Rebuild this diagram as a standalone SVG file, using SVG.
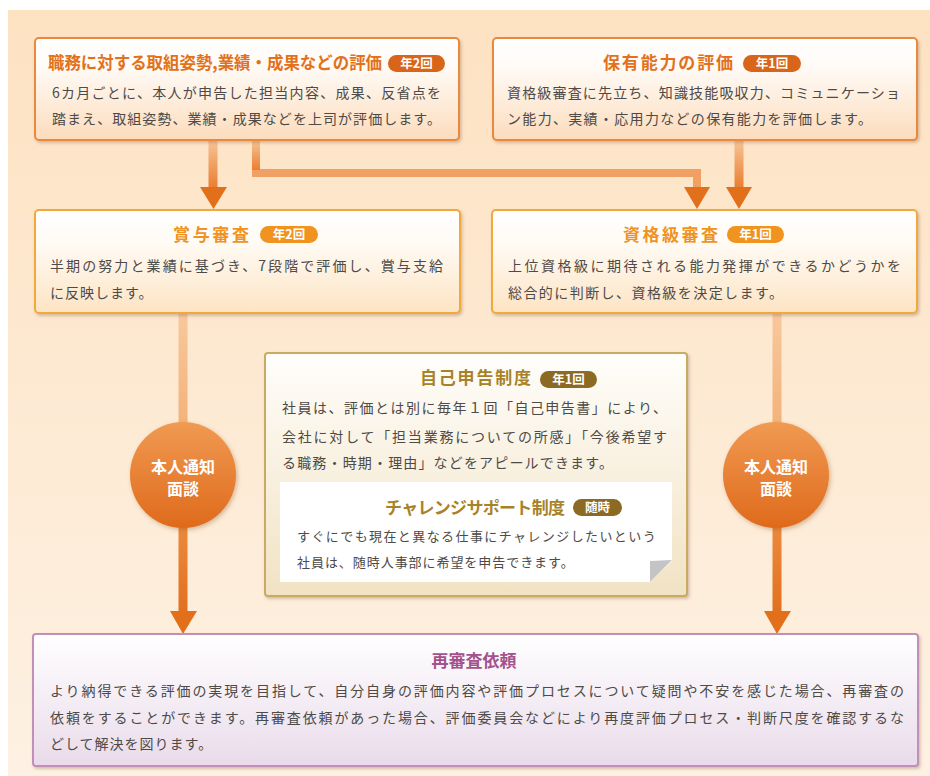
<svg xmlns="http://www.w3.org/2000/svg" width="930" height="776" viewBox="0 0 930 776">
<defs>
  <linearGradient id="bg" x1="0" y1="0" x2="0" y2="1">
    <stop offset="0" stop-color="#fde2c2"/>
    <stop offset="1" stop-color="#fdf1e3"/>
  </linearGradient>
  <linearGradient id="gOrange" x1="0" y1="0" x2="0" y2="1">
    <stop offset="0" stop-color="#ffffff"/>
    <stop offset="0.3" stop-color="#fffaf5"/>
    <stop offset="1" stop-color="#fcdcbc"/>
  </linearGradient>
  <linearGradient id="gYellow" x1="0" y1="0" x2="0" y2="1">
    <stop offset="0" stop-color="#ffffff"/>
    <stop offset="0.3" stop-color="#fffbf5"/>
    <stop offset="1" stop-color="#fde4c4"/>
  </linearGradient>
  <linearGradient id="gGold" x1="0" y1="0" x2="0" y2="1">
    <stop offset="0" stop-color="#fffefb"/>
    <stop offset="1" stop-color="#f1e2c3"/>
  </linearGradient>
  <linearGradient id="gPurple" x1="0" y1="0" x2="0" y2="1">
    <stop offset="0" stop-color="#ffffff"/>
    <stop offset="1" stop-color="#e9dbea"/>
  </linearGradient>
  <linearGradient id="gCircle" x1="0" y1="0" x2="0" y2="1">
    <stop offset="0" stop-color="#f09a52"/>
    <stop offset="1" stop-color="#df6a1c"/>
  </linearGradient>
  <linearGradient id="gShaft" x1="0" y1="0" x2="0" y2="1">
    <stop offset="0" stop-color="#f6c596"/>
    <stop offset="1" stop-color="#ea7e30"/>
  </linearGradient>
  <linearGradient id="gShaftLight" x1="0" y1="0" x2="0" y2="1">
    <stop offset="0" stop-color="#f7c89c"/>
    <stop offset="1" stop-color="#f4b27a"/>
  </linearGradient>
  <linearGradient id="gShaftDark" x1="0" y1="0" x2="0" y2="1">
    <stop offset="0" stop-color="#ec8a3e"/>
    <stop offset="1" stop-color="#e2701e"/>
  </linearGradient>
  <filter id="sh" x="-5%" y="-5%" width="112%" height="120%">
    <feDropShadow dx="1.5" dy="2" stdDeviation="1.8" flood-color="#8a6040" flood-opacity="0.35"/>
  </filter>
  <filter id="shc" x="-20%" y="-20%" width="140%" height="140%">
    <feDropShadow dx="1.5" dy="2" stdDeviation="2" flood-color="#8a5020" flood-opacity="0.35"/>
  </filter>
</defs>
<style>
  text { font-family: "Noto Sans CJK JP", "Noto Sans", sans-serif; }
  .body { font-size: 14px; fill: #4d4a47; letter-spacing: 1px; }
  .small { font-size: 13px; fill: #4d4a47; letter-spacing: 1.3px; }
  .tO { font-size: 17px; font-weight: bold; fill: #e2711c; }
  .tY { font-size: 17px; font-weight: bold; fill: #f0931f; }
  .tG { font-size: 17px; font-weight: bold; fill: #a88228; }
  .tP { font-size: 17px; font-weight: bold; fill: #a3528e; }
  .badge { font-size: 12.5px; font-weight: bold; fill: #ffffff; text-anchor: middle; }
  .ctext { font-size: 16px; font-weight: bold; fill: #ffffff; text-anchor: middle; }
  .arrowhead { fill: #e2701a; }
</style>

<rect x="8" y="10" width="922" height="766" fill="url(#bg)"/>

<g id="connectors">
  <rect x="208.5" y="140" width="9" height="48" fill="url(#gShaft)"/>
  <polygon class="arrowhead" points="200,187 227,187 213.5,209"/>
  <path d="M256,140 V173 H697 V188" fill="none" stroke="#f0a062" stroke-width="8"/>
  <rect x="252" y="140" width="8" height="30" fill="url(#gShaft)"/>
  <polygon class="arrowhead" points="684,187 710,187 697,209"/>
  <rect x="734.5" y="140" width="9" height="48" fill="url(#gShaft)"/>
  <polygon class="arrowhead" points="726,187 752,187 739,209"/>
  <rect x="178.5" y="313" width="9" height="112" fill="url(#gShaftLight)"/>
  <rect x="178.5" y="525" width="9" height="88" fill="url(#gShaftDark)"/>
  <polygon class="arrowhead" points="170,611 197,611 183,634"/>
  <rect x="772.5" y="313" width="9" height="112" fill="url(#gShaftLight)"/>
  <rect x="772.5" y="525" width="9" height="88" fill="url(#gShaftDark)"/>
  <polygon class="arrowhead" points="764,611 791,611 777,634"/>
</g>

<g id="node-performance">
  <rect x="35" y="38" width="424" height="102" rx="4" fill="url(#gOrange)" stroke="#e8893c" stroke-width="2" filter="url(#sh)"/>
  <text class="tO" x="48" y="69" textLength="334" lengthAdjust="spacingAndGlyphs">職務に対する取組姿勢,業績・成果などの評価</text>
  <rect x="388" y="55" width="57" height="17" rx="8.5" fill="#d8651a"/>
  <text class="badge" x="416.5" y="68">年2回</text>
  <text class="body" x="52" y="98" textLength="390">6カ月ごとに、本人が申告した担当内容、成果、反省点を</text>
  <text class="body" x="52" y="124" textLength="390">踏まえ、取組姿勢、業績・成果などを上司が評価します。</text>
</g>

<g id="node-ability">
  <rect x="493" y="38" width="424" height="102" rx="4" fill="url(#gOrange)" stroke="#e8893c" stroke-width="2" filter="url(#sh)"/>
  <text class="tO" x="603" y="69" textLength="130">保有能力の評価</text>
  <rect x="743" y="55" width="58" height="17" rx="8.5" fill="#d8651a"/>
  <text class="badge" x="772" y="68">年1回</text>
  <text class="body" x="507" y="98" textLength="394">資格級審査に先立ち、知識技能吸収力、コミュニケーショ</text>
  <text class="body" x="507" y="124" textLength="366">ン能力、実績・応用力などの保有能力を評価します。</text>
</g>

<g id="node-bonus">
  <rect x="35" y="210" width="425" height="103" rx="4" fill="url(#gYellow)" stroke="#f1a93c" stroke-width="2" filter="url(#sh)"/>
  <text class="tY" x="173" y="241" textLength="76">賞与審査</text>
  <rect x="260" y="226" width="58" height="17" rx="8.5" fill="#f0931f"/>
  <text class="badge" x="289" y="239">年2回</text>
  <text class="body" x="50" y="271" textLength="394">半期の努力と業績に基づき、7段階で評価し、賞与支給</text>
  <text class="body" x="50" y="298">に反映します。</text>
</g>

<g id="node-grade">
  <rect x="492" y="210" width="425" height="103" rx="4" fill="url(#gYellow)" stroke="#f1a93c" stroke-width="2" filter="url(#sh)"/>
  <text class="tY" x="623" y="241" textLength="95">資格級審査</text>
  <rect x="727" y="226" width="57" height="17" rx="8.5" fill="#f0931f"/>
  <text class="badge" x="755.5" y="239">年1回</text>
  <text class="body" x="508" y="271" textLength="394">上位資格級に期待される能力発揮ができるかどうかを</text>
  <text class="body" x="508" y="298" textLength="276">総合的に判断し、資格級を決定します。</text>
</g>

<g id="node-self-report">
  <rect x="265" y="353" width="422" height="243" rx="3" fill="url(#gGold)" stroke="#c9aa64" stroke-width="2" filter="url(#sh)"/>
  <text class="tG" x="420" y="384" textLength="111">自己申告制度</text>
  <rect x="540" y="371" width="57" height="17" rx="8.5" fill="#8c6a24"/>
  <text class="badge" x="568.5" y="384">年1回</text>
  <text class="body" x="282" y="413" textLength="386">社員は、評価とは別に毎年１回「自己申告書」により、</text>
  <text class="body" x="282" y="442" textLength="386">会社に対して「担当業務についての所感」「今後希望す</text>
  <text class="body" x="282" y="468" textLength="332">る職務・時期・理由」などをアピールできます。</text>
</g>

<g id="node-challenge">
  <polygon points="280,482 672,482 672,561 650,582 280,582" fill="#ffffff"/>
  <polygon points="650,561 672,560 650,582" fill="#c4c4c6"/>
  <text class="tG" x="385" y="514" textLength="180">チャレンジサポート制度</text>
  <rect x="573" y="499" width="49" height="17" rx="8.5" fill="#8c6a24"/>
  <text class="badge" x="597.5" y="512">随時</text>
  <text class="small" x="297" y="541" textLength="360">すぐにでも現在と異なる仕事にチャレンジしたいという</text>
  <text class="small" x="297" y="567" textLength="278">社員は、随時人事部に希望を申告できます。</text>
</g>

<g id="node-notify-left">
  <circle cx="183" cy="475" r="53" fill="url(#gCircle)" filter="url(#shc)"/>
  <text class="ctext" x="183" y="473">本人通知</text>
  <text class="ctext" x="183" y="495">面談</text>
</g>

<g id="node-notify-right">
  <circle cx="776" cy="475" r="53" fill="url(#gCircle)" filter="url(#shc)"/>
  <text class="ctext" x="776" y="473">本人通知</text>
  <text class="ctext" x="776" y="495">面談</text>
</g>

<g id="node-re-review">
  <rect x="33" y="634" width="885" height="132" rx="3" fill="url(#gPurple)" stroke="#c28fba" stroke-width="2" filter="url(#sh)"/>
  <text class="tP" x="474" y="667" text-anchor="middle">再審査依頼</text>
  <text class="body" x="50" y="696" textLength="855">より納得できる評価の実現を目指して、自分自身の評価内容や評価プロセスについて疑問や不安を感じた場合、再審査の</text>
  <text class="body" x="50" y="723" textLength="855">依頼をすることができます。再審査依頼があった場合、評価委員会などにより再度評価プロセス・判断尺度を確認するな</text>
  <text class="body" x="50" y="749">どして解決を図ります。</text>
</g>
</svg>
